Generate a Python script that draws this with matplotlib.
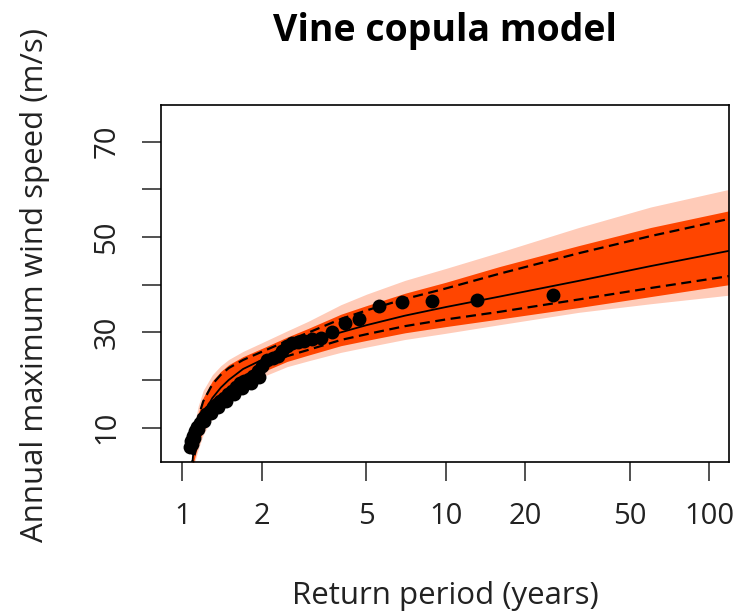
import matplotlib.pyplot as plt
import numpy as np

plt.rcParams['font.family'] = ['Open Sans', 'DejaVu Sans']

# return periods (years) where the curves were read
periods = [1.085, 1.1, 1.12, 1.15, 1.2, 1.3, 1.4, 1.5, 1.7, 2.0, 2.5, 3.0, 4.0, 5.0, 7.0, 10, 16, 32, 60, 119]
median = [1.0, 4.5, 7.0, 9.8, 12.8, 16.2, 18.4, 20.0, 22.3, 24.2, 26.4, 27.9, 30.0, 31.5, 33.5, 35.3, 37.5, 40.8, 43.9, 47.1]
upper = [1.0, 6.2, 9.2, 12.2, 15.5, 19.1, 21.1, 22.5, 24.2, 25.9, 28.2, 29.9, 32.8, 34.6, 37.0, 39.2, 42.3, 46.6, 50.2, 53.8]
lower = [1.0, 3.0, 5.0, 7.5, 10.5, 14.0, 16.3, 18.0, 20.5, 22.6, 25.0, 26.3, 28.4, 29.6, 31.3, 32.7, 34.3, 36.9, 39.3, 41.8]
# simulated curves: dense core and faint envelope
core_hi = [1.0, 7.0, 10.0, 13.0, 16.3, 19.8, 21.8, 23.2, 24.9, 26.6, 29.0, 30.8, 33.8, 35.6, 38.2, 40.5, 43.8, 48.2, 52.0, 55.5]
core_lo = [1.0, 2.5, 4.2, 6.5, 9.5, 13.0, 15.3, 17.0, 19.5, 21.6, 23.9, 25.2, 27.2, 28.3, 29.9, 31.2, 32.8, 35.2, 37.5, 40.0]
env_hi = [1.0, 8.3, 11.6, 14.6, 17.8, 21.1, 23.0, 24.3, 26.0, 27.8, 30.3, 32.3, 35.8, 38.0, 40.9, 43.4, 46.8, 52.0, 56.3, 60.0]
env_lo = [1.0, 2.0, 3.2, 5.5, 8.5, 12.0, 14.3, 16.0, 18.5, 20.6, 22.8, 24.0, 25.8, 26.9, 28.5, 29.8, 31.6, 34.2, 36.0, 37.8]

# observed annual maxima
obs_T = [25.6, 13.1, 8.9, 6.8, 5.6, 4.7, 4.15, 3.7, 3.35, 3.1, 2.9, 2.75, 2.62, 2.5, 2.4, 2.3, 2.2,
         2.1, 2.0, 1.93, 1.86, 1.79, 1.72, 1.66, 1.6, 1.54, 1.49, 1.44, 1.39, 1.35, 1.31, 1.27,
         1.23, 1.2, 1.17, 1.14, 1.12, 1.1, 1.08, 1.07,
         1.96, 1.83, 1.69, 1.57, 1.46, 1.37, 1.29, 1.21, 1.15, 1.11, 1.09]
obs_v = [37.8, 36.7, 36.6, 36.4, 35.6, 32.7, 32.0, 30.1, 28.8, 28.5, 28.2, 28.0, 27.8, 27.2, 26.0, 25.0, 24.6,
         24.2, 23.0, 21.8, 20.8, 20.2, 19.8, 19.3, 18.5, 17.6, 17.0, 16.3, 15.6, 15.0, 14.3, 13.6,
         12.8, 12.0, 11.0, 10.2, 9.2, 8.2, 7.2, 6.0,
         20.6, 19.4, 18.3, 17.0, 15.6, 14.4, 13.0, 11.4, 9.8, 7.8, 6.6]

xticks = [1, 2, 5, 10, 20, 50, 100]
yticks = [10, 20, 30, 40, 50, 60, 70]
ylabels = ['10', '', '30', '', '50', '', '70']

W, H = 739, 616
fig = plt.figure(figsize=(W / 100, H / 100), dpi=100)
ax = fig.add_axes([161 / W, 1 - 461.5 / H, (729 - 161) / W, (461.5 - 105) / H])

orange = '#ff4500'
ax.fill_between(periods, env_lo, env_hi, color=orange, alpha=0.28, lw=0)
ax.fill_between(periods, core_lo, core_hi, color=orange, alpha=1.0, lw=0)
ax.plot(periods, median, color='black', lw=1.3)
ax.plot(periods, upper, color='black', lw=1.6, dashes=(4.5, 2.5))
ax.plot(periods, lower, color='black', lw=1.6, dashes=(4.5, 2.5))
ax.plot(obs_T, obs_v, 'o', color='black', ms=10, mew=0)

ax.set_xscale('log')
ax.set_xlim(0.83, 119)
ax.set_ylim(2.9, 77.7)
ax.set_xticks(xticks)
ax.set_xticklabels([str(t) for t in xticks])
ax.xaxis.set_minor_locator(plt.NullLocator())
ax.set_yticks(yticks)
ax.set_yticklabels(ylabels, rotation=90, va='center')

for s in ax.spines.values():
    s.set_linewidth(1.2)
ax.tick_params(length=13.5, width=1.1, labelsize=21, colors='#222222')
ax.tick_params(axis='x', pad=16)
ax.tick_params(axis='y', pad=15)

fig.text(445 / W, 1 - 31 / H, 'Vine copula model', ha='center', va='center',
         fontsize=27, fontweight='bold')
fig.text(445 / W, 1 - 596 / H, 'Return period (years)', ha='center', va='center',
         fontsize=22.5, color='#222222')
fig.text(35 / W, 1 - 285 / H, 'Annual maximum wind speed (m/s)', ha='center', va='center',
         rotation=90, fontsize=22.5, color='#222222')

fig.savefig('out.png', dpi=100)
